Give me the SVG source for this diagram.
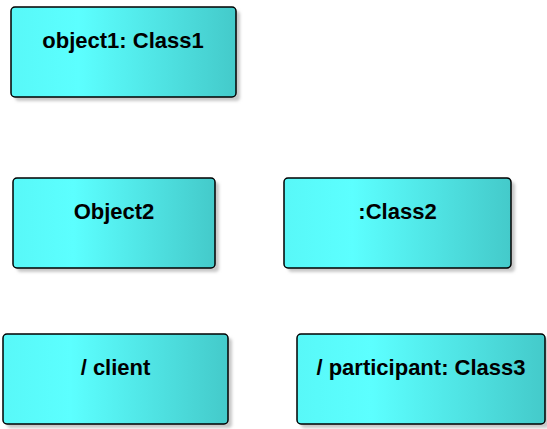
<svg xmlns="http://www.w3.org/2000/svg" width="547" height="429" viewBox="0 0 547 429">
<defs>
<linearGradient id="g" x1="0" y1="0" x2="1" y2="0">
<stop offset="0" stop-color="#58F8F8"/>
<stop offset="0.3" stop-color="#5CFFFF"/>
<stop offset="1" stop-color="#44CACA"/>
</linearGradient>
<filter id="sh" x="-10%" y="-10%" width="130%" height="140%">
<feGaussianBlur stdDeviation="1.5"/>
</filter>
</defs>
<style>
.box{fill:url(#g);stroke:#000;stroke-width:1.5}
.shadow{fill:#c8c8c8;filter:url(#sh)}
text{font-family:"Liberation Sans",Arial,sans-serif;font-weight:bold;font-size:22px;fill:#000;text-anchor:middle}
</style>
<rect width="547" height="429" fill="#fff"/>
<g id="connectors"/>
<g id="object1">
<rect class="shadow" x="15" y="11" width="225" height="90" rx="4"/>
<rect class="box" x="11" y="7" width="225" height="90" rx="4"/>
<text x="123" y="48">object1: Class1</text>
</g>
<g id="object2">
<rect class="shadow" x="17" y="182" width="202" height="90" rx="4"/>
<rect class="box" x="13" y="178" width="202" height="90" rx="4"/>
<text x="114" y="219">Object2</text>
</g>
<g id="class2">
<rect class="shadow" x="288" y="182" width="227" height="90" rx="4"/>
<rect class="box" x="284" y="178" width="227" height="90" rx="4"/>
<text x="397.5" y="219">:Class2</text>
</g>
<g id="client">
<rect class="shadow" x="7" y="338" width="225" height="90" rx="4"/>
<rect class="box" x="3" y="334" width="225" height="90" rx="4"/>
<text x="115.5" y="375">/ client</text>
</g>
<g id="participant">
<rect class="shadow" x="301" y="338" width="248" height="90" rx="4"/>
<rect class="box" x="297" y="334" width="248" height="90" rx="4"/>
<text x="421" y="375">/ participant: Class3</text>
</g>
</svg>
